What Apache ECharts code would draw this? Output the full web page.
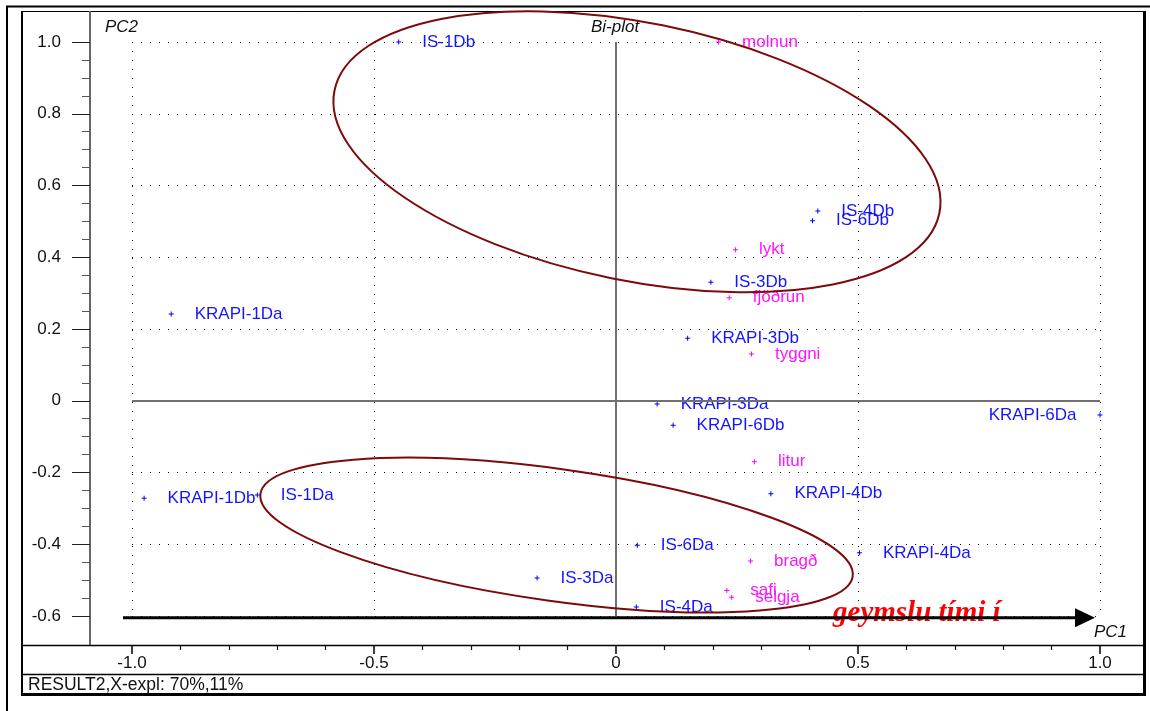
<!DOCTYPE html>
<html><head><meta charset="utf-8">
<script src="https://cdn.jsdelivr.net/npm/echarts@6/dist/echarts.min.js"></script>
<style>html,body{margin:0;padding:0;background:#fff}#c{width:1150px;height:711px}</style>
</head><body><div id="c"></div>
<script>
// ---- data ----
const sampleNames = ['IS-1Db','IS-4Db','IS-6Db','IS-3Db','KRAPI-1Da','KRAPI-3Db','KRAPI-3Da','KRAPI-6Db','KRAPI-6Da','KRAPI-1Db','IS-1Da','KRAPI-4Db','IS-6Da','KRAPI-4Da','IS-3Da','IS-4Da'];
const sampleX = [-0.449, 0.417, 0.406, 0.196, -0.919, 0.148, 0.085, 0.118, 1.000, -0.975, -0.741, 0.320, 0.044, 0.503, -0.163, 0.042];
const sampleY = [1.000, 0.529, 0.502, 0.330, 0.242, 0.174, -0.009, -0.068, -0.040, -0.272, -0.263, -0.259, -0.403, -0.424, -0.494, -0.575];
const varNames = ['molnun','lykt','fjöðrun','tyggni','litur','bragð','safi','selgja'];
const varX = [0.212, 0.247, 0.234, 0.280, 0.286, 0.278, 0.229, 0.239];
const varY = [1.000, 0.421, 0.287, 0.130, -0.170, -0.447, -0.529, -0.548];
const leftLabelled = ['KRAPI-6Da'];
const xRange = {min: -1.0, max: 1.0, interval: 0.5};
const yRange = {min: -0.6, max: 1.0, interval: 0.2};
const footerText = 'RESULT2,X-expl: 70%,11%';
const arrowText = 'geymslu tími í';

const FONT = '"Liberation Sans", Arial, sans-serif';
const plus = 'path://M2,0H3V2H5V3H3V5H2V3H0V2H2Z';
const fmt = v => (Math.abs(v) < 1e-9 ? '0' : v.toFixed(1));

function build(names, xs, ys) {
  return names.map((n, i) => {
    const d = {name: n, value: [xs[i], ys[i]]};
    if (leftLabelled.indexOf(n) >= 0) d.label = {position: 'left'};
    return d;
  });
}

const chart = echarts.init(document.getElementById('c'));
const option = {
  animation: false,
  backgroundColor: '#fff',
  grid: {left: 132, top: 42, width: 968, height: 574, containLabel: false},
  xAxis: {
    type: 'value', min: xRange.min, max: xRange.max, interval: xRange.interval,
    position: 'bottom', offset: 29,
    axisLine: {show: false, onZero: false},
    axisTick: {show: true, length: 9, lineStyle: {color: '#000', width: 1.5}},
    minorTick: {show: true, splitNumber: 5, length: 5, lineStyle: {color: '#111', width: 1.2}},
    axisLabel: {formatter: fmt, fontSize: 17, fontFamily: FONT, color: '#111', margin: 10},
    splitLine: {show: true, lineStyle: {color: '#000', width: 1, type: [1, 8]}},
    minorSplitLine: {show: false}
  },
  yAxis: {
    type: 'value', min: yRange.min, max: yRange.max, interval: yRange.interval,
    position: 'left', offset: 42,
    axisLine: {show: false, onZero: false},
    axisTick: {show: true, length: 18, lineStyle: {color: '#222', width: 1}},
    minorTick: {show: true, splitNumber: 4, length: 8, lineStyle: {color: '#555', width: 1}},
    axisLabel: {formatter: fmt, fontSize: 17, fontFamily: FONT, color: '#111', margin: 29},
    splitLine: {show: true, lineStyle: {color: '#000', width: 1, type: [1, 8]}},
    minorSplitLine: {show: false}
  },
  series: [
    {
      type: 'scatter', name: 'samples', clip: false,
      symbol: plus, symbolSize: 5,
      itemStyle: {color: '#0000ff', opacity: 1},
      label: {show: true, position: 'right', distance: 21, formatter: '{b}', color: '#1414ff', opacity: 1, fontSize: 17, fontFamily: FONT},
      data: build(sampleNames, sampleX, sampleY),
      markLine: {
        silent: true, symbol: 'none', animation: false,
        label: {show: false},
        lineStyle: {color: '#707070', width: 2, type: 'solid', opacity: 1},
        data: [{xAxis: 0}, {yAxis: 0}]
      },
      z: 3
    },
    {
      type: 'scatter', name: 'variables', clip: false,
      symbol: plus, symbolSize: 5,
      itemStyle: {color: '#ff00ff', opacity: 1},
      label: {show: true, position: 'right', distance: 21, formatter: '{b}', color: '#ff14ff', opacity: 1, fontSize: 17, fontFamily: FONT},
      data: build(varNames, varX, varY),
      z: 3
    }
  ]
};
chart.setOption(option);

// ---- annotations placed from data coordinates ----
const P = (x, y) => chart.convertToPixel({gridIndex: 0}, [x, y]);
const ellipses = [
  {cx: 0.0433, cy: 0.6941, rx: 308.6, ry: 129, angle: 11.46},
  {cx: -0.1228, cy: -0.3743, rx: 299, ry: 66, angle: 7.93}
];
const arrowFrom = [-1.0186, -0.605], arrowTo = [0.9897, -0.605];

const g = [];
// frames
g.push({type: 'polyline', silent: true, z: -1, shape: {points: [[7, 711], [7, 6.5], [1150, 6.5]]}, style: {stroke: '#000', lineWidth: 2, fill: 'none'}});
g.push({type: 'rect', silent: true, z: -1, shape: {x: 21.5, y: 11.5, width: 1122.5, height: 683}, style: {stroke: '#000', lineWidth: 1, fill: 'none'}});
g.push({type: 'line', silent: true, z: -1, shape: {x1: 22, y1: 11, x2: 22, y2: 695}, style: {stroke: '#000', lineWidth: 2}});
g.push({type: 'line', silent: true, z: -1, shape: {x1: 1144.5, y1: 11, x2: 1144.5, y2: 696}, style: {stroke: '#000', lineWidth: 3}});
g.push({type: 'line', silent: true, z: -1, shape: {x1: 21, y1: 694.5, x2: 1146, y2: 694.5}, style: {stroke: '#000', lineWidth: 3}});
g.push({type: 'line', silent: true, z: -1, shape: {x1: 22, y1: 645.5, x2: 1144, y2: 645.5}, style: {stroke: '#000', lineWidth: 1.5}});
g.push({type: 'line', silent: true, z: -1, shape: {x1: 22, y1: 674.5, x2: 1144, y2: 674.5}, style: {stroke: '#000', lineWidth: 1.5}});
g.push({type: 'line', silent: true, z: -1, shape: {x1: 90, y1: 11, x2: 90, y2: 645}, style: {stroke: '#666', lineWidth: 2}});
// texts
const txt = (t, x, y, font, fill) => ({type: 'text', silent: true, z: 60, x: x, y: y,
  style: {text: t, font: font, fill: fill, textAlign: 'left', textVerticalAlign: 'middle', align: 'left', verticalAlign: 'middle'}});
g.push(txt('PC2', 105, 27, 'italic 17px ' + FONT, '#111'));
g.push(txt('Bi-plot', 591, 27, 'italic 17px ' + FONT, '#111'));
g.push(txt('PC1', 1094, 632, 'italic 17px ' + FONT, '#111'));
g.push(txt(footerText, 28, 685, '17.5px ' + FONT, '#111'));
// ellipses
ellipses.forEach(e => {
  const c = P(e.cx, e.cy);
  g.push({type: 'ellipse', silent: true, z: 70, x: c[0], y: c[1], rotation: -e.angle * Math.PI / 180,
    shape: {cx: 0, cy: 0, rx: e.rx, ry: e.ry}, style: {fill: 'none', stroke: '#7d0a0a', lineWidth: 2}});
});
// arrow
const a0 = P(arrowFrom[0], arrowFrom[1]), a1 = P(arrowTo[0], arrowTo[1]);
g.push({type: 'line', silent: true, z: 65, shape: {x1: a0[0], y1: a0[1], x2: a1[0] - 18, y2: a1[1]}, style: {stroke: '#000', lineWidth: 3}});
g.push({type: 'polygon', silent: true, z: 65, shape: {points: [[a1[0] - 20, a1[1] - 9.5], [a1[0], a1[1]], [a1[0] - 20, a1[1] + 9.5]]}, style: {fill: '#000'}});
g.push(txt(arrowText, a1[0] - 262, a1[1] - 4, 'italic bold 29px "Liberation Serif", "Times New Roman", serif', '#ff0000'));
chart.setOption({graphic: g});
</script>
</body></html>
